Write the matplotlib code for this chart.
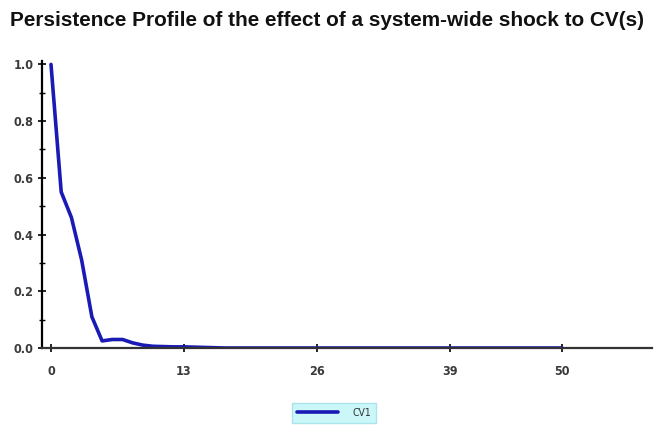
import matplotlib
matplotlib.use("Agg")
import matplotlib.pyplot as plt
from matplotlib.ticker import MultipleLocator

horizon = list(range(0, 51))
cv1_head = [1.0, 0.55, 0.46, 0.31, 0.11, 0.025, 0.03, 0.03, 0.018, 0.01,
            0.006, 0.005, 0.004, 0.004, 0.003, 0.002, 0.001]
cv1 = cv1_head + [0.0] * (len(horizon) - len(cv1_head))
xticks = [0, 13, 26, 39, 50]
yticks = [0.0, 0.2, 0.4, 0.6, 0.8, 1.0]
title = "Persistence Profile of the effect of a system-wide shock to CV(s)"

W, H = 654, 426
fig = plt.figure(figsize=(W / 100, H / 100), dpi=100)
ax = fig.add_axes([42 / W, 1 - 348 / H, 610 / W, (348 - 61) / H])
ax.plot(horizon, cv1, color="#1a1ab4", lw=2.6, label="CV1", solid_capstyle="round")
ax.set_xlim(-0.88, 58.8)
ax.set_ylim(0, 1.012)
for s in ["top", "right"]:
    ax.spines[s].set_visible(False)
ax.spines["left"].set_linewidth(1.6)
ax.spines["bottom"].set_linewidth(1.6)
ax.spines["bottom"].set_color("#333333")
ax.set_xticks(xticks)
ax.set_yticks(yticks)
ax.set_yticklabels([f"{v:.1f}" for v in yticks])
ax.yaxis.set_minor_locator(MultipleLocator(0.1))
ax.tick_params(axis="both", which="major", direction="inout", length=6, width=1.2,
               labelsize=9, labelcolor="#3a3a3a", pad=3)
ax.tick_params(axis="y", which="minor", direction="inout", length=4, width=1.0)
ax.tick_params(axis="x", pad=9)
for lab in ax.get_xticklabels() + ax.get_yticklabels():
    lab.set_family(["DejaVu Sans"])
    lab.set_fontstretch("condensed")
    lab.set_fontweight("bold")

fig.text(10 / W, 1 - 20 / H, title, fontsize=14.95, fontweight="bold",
         family=["Liberation Sans", "DejaVu Sans"], va="center", ha="left",
         color="#111111")

leg = fig.legend(loc="center", bbox_to_anchor=(334 / W, 1 - 413 / H), frameon=True,
                 fontsize=7.5, handlelength=4.0, borderpad=0.45, handletextpad=1.4,
                 borderaxespad=0, fancybox=False)
leg.get_frame().set_facecolor("#bff6f8")
leg.get_frame().set_edgecolor("#9adfe6")
for t in leg.get_texts():
    t.set_color("#333333")
    t.set_fontstretch("condensed")

fig.savefig("out.png", dpi=100)
